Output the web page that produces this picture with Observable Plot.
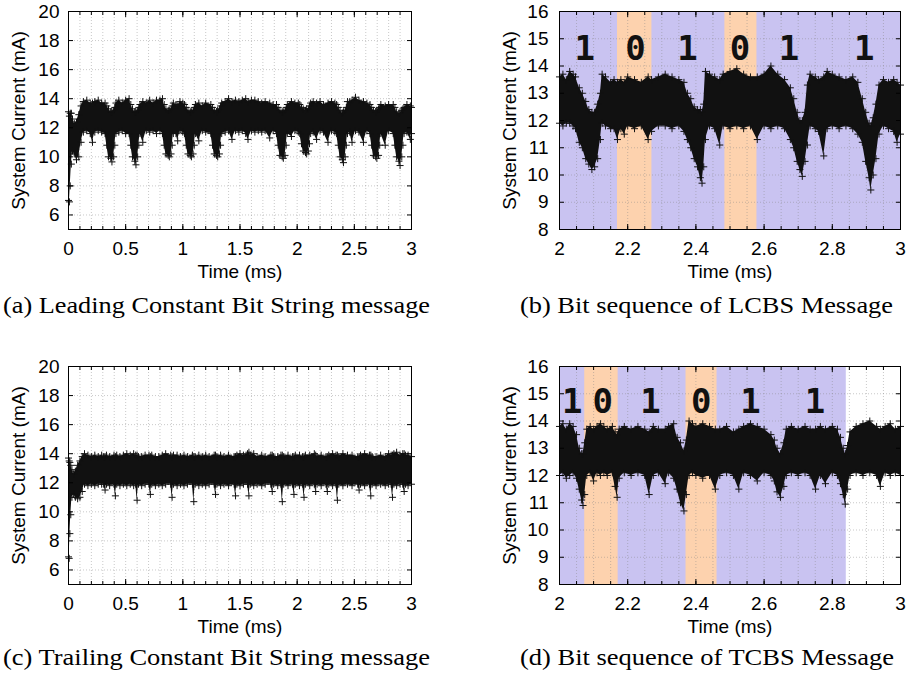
<!DOCTYPE html>
<html><head><meta charset="utf-8">
<script src="https://cdn.jsdelivr.net/npm/d3@7"></script>
<script src="https://cdn.jsdelivr.net/npm/@observablehq/plot@0.6"></script>
<style>
body{margin:0;background:#fff;width:914px;height:676px;position:relative;overflow:hidden}
.panel{position:absolute}
#cap{position:absolute;left:0;top:0}
</style></head>
<body>
<div id="pa" class="panel" style="left:0;top:0"></div>
<div id="pb" class="panel" style="left:457px;top:0"></div>
<div id="pc" class="panel" style="left:0;top:355px"></div>
<div id="pd" class="panel" style="left:457px;top:355px"></div>
<svg id="cap" width="914" height="676"></svg>
<script>
// ---------- Panel (a): Leading Constant Bit String message ----------
const tA = [0,0.008,0.015,0.025,0.035,0.05,0.07,0.09,0.11,0.13,
  0.16,0.19,0.21,0.23,0.26,0.29,0.32,0.335,0.35,0.37,
  0.38,0.395,0.405,0.415,0.44,0.47,0.50,0.53,0.545,0.56,
  0.58,0.59,0.605,0.615,0.625,0.65,0.68,0.71,0.74,0.77,
  0.80,0.822,0.837,0.852,0.872,0.882,0.897,0.907,0.917,0.94,
  0.955,0.975,1.00,1.015,1.03,1.045,1.065,1.075,1.09,1.10,
  1.11,1.14,1.17,1.20,1.245,1.26,1.275,1.295,1.305,1.32,
  1.33,1.34,1.37,1.40,1.43,1.46,1.49,1.52,1.55,1.57,
  1.60,1.63,1.66,1.69,1.72,1.76,1.79,1.819,1.834,1.849,
  1.869,1.879,1.894,1.904,1.914,1.95,1.98,2.01,2.023,2.038,
  2.053,2.073,2.083,2.098,2.108,2.118,2.14,2.17,2.20,2.23,
  2.27,2.30,2.33,2.345,2.36,2.375,2.395,2.405,2.42,2.43,
  2.44,2.46,2.48,2.51,2.54,2.58,2.61,2.637,2.652,2.667,
  2.687,2.697,2.712,2.722,2.732,2.77,2.80,2.84,2.855,2.87,
  2.89,2.90,2.915,2.925,2.935,2.96,2.99,3.00];
const loA = [7.0,6.9,8.0,9.5,10.4,10.2,9.8,10.0,11.0,11.7,
  11.8,11.6,11.0,11.7,11.8,11.7,11.6,10.8,10.0,9.9,
  9.65,10.0,10.8,11.6,11.7,11.8,11.6,11.6,10.8,10.0,
  9.7,9.45,10.0,10.8,11.6,11.0,11.8,11.7,11.8,11.6,
  11.8,11.6,10.8,10.2,10.1,10.0,10.2,10.8,11.6,11.6,
  11.1,11.8,11.7,11.6,10.8,10.2,10.1,10.0,10.2,10.8,
  11.6,11.1,11.8,11.7,11.6,10.8,10.2,10.1,10.0,10.2,
  10.8,11.6,11.7,11.8,11.2,11.8,11.7,11.8,11.6,11.2,
  11.8,11.7,11.8,11.7,11.8,11.3,11.8,11.6,10.8,10.1,
  10.0,9.9,10.1,10.8,11.6,11.4,11.8,11.7,11.6,10.9,
  10.4,10.3,10.2,10.4,10.9,11.6,11.7,11.2,11.8,11.7,
  11.0,11.8,11.7,11.6,10.8,10.0,9.8,9.6,10.0,10.8,
  11.6,11.7,11.0,11.8,11.7,11.0,11.8,11.6,10.8,10.1,
  10.0,9.9,10.1,10.8,11.6,10.8,11.8,11.6,10.8,10.0,
  9.7,9.4,10.0,10.8,11.6,11.7,11.2,11.6];
const hiA = [13.1,12.8,13.0,13.0,12.6,12.3,12.4,12.9,13.5,13.8,
  13.9,13.7,13.7,13.8,13.9,13.7,13.7,13.5,13.3,13.1,
  13.1,13.2,13.4,13.7,13.9,13.7,13.9,14.0,13.6,13.3,
  13.1,13.1,13.2,13.4,13.6,13.8,13.7,13.9,13.7,13.9,
  13.9,14.0,13.6,13.3,13.2,13.2,13.3,13.5,13.7,13.6,
  13.5,13.8,13.7,13.6,13.4,13.2,13.1,13.1,13.2,13.4,
  13.6,13.7,13.5,13.7,13.6,13.4,13.2,13.1,13.2,13.3,
  13.5,13.7,13.8,14.0,13.8,13.9,13.8,13.9,14.0,13.8,
  13.9,13.9,13.8,13.7,13.8,13.7,13.6,13.6,13.4,13.2,
  13.1,13.1,13.2,13.4,13.6,13.8,13.7,13.7,13.6,13.4,
  13.3,13.2,13.3,13.3,13.5,13.7,13.8,13.7,13.8,13.6,
  13.7,13.8,13.7,13.6,13.4,13.2,13.0,13.1,13.2,13.4,
  13.8,13.8,13.9,14.1,13.9,13.8,13.7,13.6,13.4,13.2,
  13.1,13.2,13.3,13.4,13.6,13.5,13.6,13.6,13.4,13.1,
  13.0,13.0,13.2,13.3,13.4,13.6,13.5,13.4];

// ---------- Panel (b): Bit sequence of LCBS Message ----------
const tB = [2.000,2.01,2.02,2.03,2.04,2.047,2.058,2.067,2.077,2.086,2.095,2.103,2.112,2.12,2.125,2.135,2.15,2.16,2.17,2.18,2.19,2.20,2.22,2.24,2.26,2.27,2.29,2.31,2.33,2.35,2.365,2.375,2.385,2.395,2.405,2.413,2.418,2.423,2.428,2.44,2.455,2.47,2.48,2.50,2.52,2.54,2.56,2.58,2.60,2.62,2.64,2.66,2.677,2.687,2.697,2.705,2.712,2.72,2.727,2.735,2.75,2.76,2.775,2.785,2.80,2.82,2.84,2.86,2.875,2.888,2.898,2.908,2.913,2.92,2.928,2.937,2.95,2.965,2.98,2.99,3.00];
const loB = [11.9,11.8,11.9,11.9,11.8,11.7,11.2,11.0,10.6,10.4,10.2,10.3,10.6,11.3,11.9,11.8,11.7,11.7,11.3,11.7,11.5,11.8,11.7,11.8,11.3,11.6,11.8,11.8,11.7,11.8,11.6,11.3,11.0,10.6,10.3,9.9,9.7,10.3,11.3,11.8,11.7,11.1,11.8,11.7,11.8,11.7,11.8,11.3,11.8,11.7,11.8,11.7,11.3,11.0,10.5,10.2,9.95,10.5,11.1,11.8,11.7,11.6,10.7,11.7,11.8,11.7,11.8,11.7,11.5,11.2,10.5,9.9,9.45,10.0,10.6,11.5,11.8,11.7,11.6,11.2,11.5];
const hiB = [13.6,13.7,13.5,13.8,13.7,13.6,13.2,13.0,12.7,12.4,12.3,12.3,12.6,13.0,13.7,13.6,13.4,13.5,13.4,13.5,13.4,13.6,13.5,13.4,13.6,13.5,13.6,13.7,13.6,13.5,13.4,13.0,12.8,12.5,12.4,12.4,12.3,12.6,13.8,13.7,13.6,13.5,13.7,13.8,13.9,13.7,13.6,13.6,13.7,14.0,13.7,13.5,13.2,12.8,12.3,12.0,12.0,12.3,13.3,13.7,13.6,13.5,13.6,13.8,13.7,13.6,13.5,13.6,13.4,12.8,12.3,11.9,11.8,12.1,12.6,13.3,13.5,13.4,13.5,13.4,13.3];
const bitsB = ["1","0","1","0","1","1"];
const bitTimesB = [2.074,2.223,2.375,2.529,2.673,2.894];
const bitLevelB = 14.62;
const zeroSpansB = [[2.17,2.271],[2.485,2.579]];
const oneSpanB = [2.0,3.0];

// ---------- Panel (c): Trailing Constant Bit String message ----------
const tC = [0,0.006,0.012,0.02,0.03,0.045,0.06,0.08,0.10,0.12,0.14,0.17,0.20,0.23,0.26,0.29,0.308,0.32,0.332,0.36,0.398,0.41,0.422,0.45,0.48,0.51,0.54,0.57,0.588,0.60,0.612,0.64,0.67,0.704,0.716,0.728,0.76,0.79,0.82,0.85,0.894,0.906,0.918,0.95,0.98,1.01,1.04,1.084,1.096,1.108,1.14,1.17,1.20,1.23,1.274,1.286,1.298,1.33,1.36,1.40,1.449,1.461,1.473,1.50,1.53,1.566,1.578,1.59,1.62,1.65,1.69,1.72,1.77,1.782,1.794,1.83,1.858,1.87,1.882,1.92,1.96,1.972,1.984,2.02,2.048,2.06,2.072,2.11,2.15,2.162,2.174,2.21,2.252,2.264,2.276,2.31,2.34,2.352,2.364,2.40,2.44,2.48,2.53,2.542,2.554,2.59,2.632,2.644,2.656,2.69,2.73,2.77,2.80,2.822,2.834,2.846,2.87,2.90,2.924,2.936,2.948,2.97,3.00];
const loC = [6.9,6.8,8.5,9.8,11.0,11.2,11.0,10.9,11.0,11.4,11.9,11.8,11.9,11.8,11.9,11.9,11.9,11.5,11.9,11.8,11.9,11.1,11.9,11.8,11.9,11.8,11.9,11.8,11.9,10.8,11.9,11.8,11.9,11.9,11.2,11.9,11.8,11.9,11.8,11.9,11.9,11.0,11.9,11.8,11.9,11.8,11.9,11.9,10.7,11.9,11.8,11.9,11.8,11.9,11.9,11.2,11.9,11.8,11.9,11.8,11.9,11.1,11.9,11.8,11.9,11.9,11.1,11.9,11.8,11.9,11.8,11.9,11.9,11.4,11.9,11.8,11.9,10.7,11.9,11.8,11.9,11.2,11.9,11.8,11.9,11.0,11.9,11.8,11.9,11.4,11.9,11.8,11.9,11.4,11.9,11.8,11.9,10.8,11.9,11.8,11.9,11.8,11.9,11.5,11.9,11.8,11.9,11.1,11.9,11.8,11.9,11.8,11.9,11.9,11.0,11.9,11.8,11.9,11.9,11.4,11.9,11.8,11.9];
const hiC = [13.7,13.5,13.4,13.2,12.9,12.6,12.8,13.2,13.5,13.8,14.0,13.9,13.8,13.9,13.8,13.9,13.8,13.8,13.9,13.8,13.9,13.8,13.9,13.8,13.9,14.0,13.9,14.0,13.9,13.9,13.8,13.8,13.9,13.9,13.8,13.9,13.8,13.8,13.9,14.0,13.9,13.8,13.9,13.9,13.8,13.9,13.8,13.9,13.8,13.8,13.9,13.8,13.9,13.8,13.9,13.9,13.8,13.9,13.8,13.9,13.8,13.8,13.9,14.0,13.9,14.0,14.1,13.9,14.0,13.8,13.9,13.8,13.9,13.9,13.8,13.8,13.9,13.9,13.8,13.9,13.8,13.8,13.9,13.9,13.8,13.8,13.9,13.9,14.0,13.9,13.8,13.9,13.8,13.8,13.9,14.0,13.9,13.9,13.8,14.0,13.9,13.9,13.8,13.8,13.9,14.0,13.9,13.9,13.8,13.8,13.9,13.8,14.0,13.9,13.9,14.0,14.1,13.9,14.0,14.0,13.9,13.9,13.8];

// ---------- Panel (d): Bit sequence of TCBS Message ----------
const tD = [2.000,2.01,2.02,2.03,2.04,2.05,2.058,2.065,2.069,2.074,2.08,2.09,2.10,2.11,2.12,2.13,2.14,2.155,2.163,2.169,2.175,2.19,2.21,2.23,2.25,2.263,2.275,2.29,2.31,2.32,2.335,2.345,2.355,2.365,2.372,2.38,2.39,2.40,2.42,2.44,2.457,2.47,2.49,2.51,2.526,2.54,2.56,2.58,2.60,2.62,2.63,2.638,2.648,2.658,2.665,2.68,2.70,2.72,2.735,2.751,2.765,2.78,2.80,2.815,2.824,2.832,2.838,2.845,2.852,2.87,2.89,2.91,2.93,2.941,2.955,2.97,2.985,3.00];
const loD = [12.0,12.1,11.9,12.0,12.1,11.9,11.5,11.1,10.9,11.3,12.0,12.1,11.8,12.1,12.0,12.1,12.0,12.1,11.6,11.2,11.9,12.1,12.0,12.1,12.0,11.3,12.0,12.1,11.7,12.1,11.9,11.5,11.0,10.7,11.3,12.0,12.1,12.0,11.9,12.0,11.5,12.0,12.1,12.0,11.5,12.1,12.0,11.8,12.1,12.0,11.8,11.4,11.2,11.6,12.0,12.1,12.0,12.1,12.0,11.5,12.0,11.7,12.1,12.0,11.7,11.3,10.95,11.5,12.0,12.1,12.0,12.1,12.0,11.6,12.1,12.0,12.1,12.0];
const hiD = [13.8,13.9,13.7,13.9,13.8,13.5,13.0,12.8,12.8,13.2,13.7,13.8,13.7,13.8,13.9,13.8,13.7,13.8,13.6,13.5,13.7,13.8,13.7,13.8,13.7,13.6,13.8,13.7,13.7,13.8,13.9,13.4,13.2,12.9,13.3,14.0,13.9,13.8,13.9,13.8,13.7,13.7,13.8,13.6,13.7,13.8,13.9,13.8,13.7,13.5,13.3,13.0,12.8,13.2,13.7,13.8,13.7,13.8,13.7,13.7,13.8,13.7,13.8,13.7,13.4,13.0,12.8,13.1,13.6,13.8,13.9,14.0,13.8,13.7,13.8,13.9,13.7,13.8];
const bitsD = ["1","0","1","0","1","1"];
const bitTimesD = [2.037,2.127,2.267,2.416,2.56,2.749];
const bitLevelD = 14.68;
const zeroSpansD = [[2.074,2.172],[2.371,2.462]];
const oneSpanD = [2.0,2.841];

// ---------- axes / ticks ----------
const xTicksWide = [0,0.5,1,1.5,2,2.5,3];
const xTickLabelsWide = ["0","0.5","1","1.5","2","2.5","3"];
const xGridWide = [0,0.1,0.2,0.3,0.4,0.5,0.6,0.7,0.8,0.9,1,1.1,1.2,1.3,1.4,1.5,1.6,1.7,1.8,1.9,2,2.1,2.2,2.3,2.4,2.5,2.6,2.7,2.8,2.9,3];
const yTicksWide = [6,8,10,12,14,16,18,20];
const xTicksZoom = [2,2.2,2.4,2.6,2.8,3];
const xTickLabelsZoom = ["2","2.2","2.4","2.6","2.8","3"];
const xGridZoom = [2,2.05,2.1,2.15,2.2,2.25,2.3,2.35,2.4,2.45,2.5,2.55,2.6,2.65,2.7,2.75,2.8,2.85,2.9,2.95,3];
const yTicksZoom = [8,9,10,11,12,13,14,15,16];

const captions = [
  "(a) Leading Constant Bit String message",
  "(b) Bit sequence of LCBS Message",
  "(c) Trailing Constant Bit String message",
  "(d) Bit sequence of TCBS Message"
];
const xLabel = "Time (ms)";
const yLabel = "System Current (mA)";

const SANS = "Liberation Sans, Arial, sans-serif";
const FS = 19;
const LAVENDER = "#c9c3f1";
const PEACH = "#fdd2ae";
const INK = "#111111";

function rows(t, lo, hi){ return t.map((d,i)=>({t:d, lo:lo[i], hi:hi[i]})); }

function makePanel(o){
  const data = rows(o.t, o.lo, o.hi);
  const marks = [];
  if (o.oneSpan){
    marks.push(Plot.rect([o.oneSpan], {x1: d=>d[0], x2: d=>d[1], y1: o.yDomain[0], y2: o.yDomain[1], fill: LAVENDER}));
    marks.push(Plot.rect(o.zeroSpans, {x1: d=>d[0], x2: d=>d[1], y1: o.yDomain[0], y2: o.yDomain[1], fill: PEACH}));
  }
  marks.push(Plot.ruleX(o.xGrid, {stroke: "#888", strokeOpacity: 0.45, strokeDasharray: "1,2"}));
  marks.push(Plot.ruleY(o.yTicks, {stroke: "#888", strokeOpacity: 0.45, strokeDasharray: "1,2"}));
  marks.push(Plot.areaY(data, {x: "t", y1: "lo", y2: "hi", fill: INK, curve: "linear"}));
  marks.push(Plot.dot(data, {x: "t", y: "hi", symbol: "plus", r: 2.4, stroke: INK, strokeWidth: 1}));
  marks.push(Plot.dot(data, {x: "t", y: "lo", symbol: "plus", r: 2.4, stroke: INK, strokeWidth: 1}));
  if (o.bits){
    const bd = o.bits.map((b,i)=>({b, t:o.bitTimes[i]}));
    marks.push(Plot.text(bd, {x: "t", y: () => o.bitLevel, text: "b", fontFamily: "DejaVu Sans Mono, monospace", fontWeight: "bold", fontSize: 34, fill: INK}));
  }
  marks.push(Plot.frame({stroke: "black", strokeWidth: 1}));
  // tick labels
  marks.push(Plot.axisX(o.xTicks, {anchor: "bottom", label: null, tickSize: 0, tickPadding: 12, fontSize: FS, tickFormat: (d,i)=>o.xTickLabels[i]}));
  marks.push(Plot.axisY(o.yTicks, {anchor: "left", label: null, tickSize: 0, tickPadding: o.yPad, fontSize: FS, tickFormat: d=>String(d)}));
  // inward ticks
  marks.push(Plot.axisX(o.xTicks, {anchor: "bottom", label: null, tickSize: -5, text: null}));
  marks.push(Plot.axisX(o.xTicks, {anchor: "top", label: null, tickSize: -5, text: null}));
  marks.push(Plot.axisX(o.xGrid, {anchor: "bottom", label: null, tickSize: -3, text: null}));
  marks.push(Plot.axisX(o.xGrid, {anchor: "top", label: null, tickSize: -3, text: null}));
  marks.push(Plot.axisY(o.yTicks, {anchor: "left", label: null, tickSize: -5, text: null}));
  marks.push(Plot.axisY(o.yTicks, {anchor: "right", label: null, tickSize: -5, text: null}));
  // axis titles
  marks.push(Plot.text([xLabel], {frameAnchor: "bottom", dy: 42, lineAnchor: "middle", textAnchor: "middle", fontSize: FS, fill: "black"}));
  marks.push(Plot.text([yLabel], {frameAnchor: "left", dx: -50, rotate: -90, lineAnchor: "middle", textAnchor: "middle", fontSize: FS, fill: "black"}));
  return Plot.plot({
    width: 457, height: 290,
    marginTop: 11, marginBottom: 61, marginLeft: o.ml, marginRight: o.mr,
    x: {domain: o.xDomain},
    y: {domain: o.yDomain},
    style: {fontFamily: SANS, fontSize: FS + "px", background: "transparent", color: "black", overflow: "visible"},
    marks
  });
}

document.getElementById("pa").append(makePanel({t:tA, lo:loA, hi:hiA, xDomain:[0,3], yDomain:[5,20], xTicks:xTicksWide, xTickLabels:xTickLabelsWide, xGrid:xGridWide, yTicks:yTicksWide, ml:68, mr:46, yPad:9}));
document.getElementById("pc").append(makePanel({t:tC, lo:loC, hi:hiC, xDomain:[0,3], yDomain:[5,20], xTicks:xTicksWide, xTickLabels:xTickLabelsWide, xGrid:xGridWide, yTicks:yTicksWide, ml:68, mr:46, yPad:9}));
document.getElementById("pb").append(makePanel({t:tB, lo:loB, hi:hiB, xDomain:[2,3], yDomain:[8,16], xTicks:xTicksZoom, xTickLabels:xTickLabelsZoom, xGrid:xGridZoom, yTicks:yTicksZoom, ml:102, mr:14, yPad:11, bits:bitsB, bitTimes:bitTimesB, bitLevel:bitLevelB, zeroSpans:zeroSpansB, oneSpan:oneSpanB}));
document.getElementById("pd").append(makePanel({t:tD, lo:loD, hi:hiD, xDomain:[2,3], yDomain:[8,16], xTicks:xTicksZoom, xTickLabels:xTickLabelsZoom, xGrid:xGridZoom, yTicks:yTicksZoom, ml:102, mr:14, yPad:11, bits:bitsD, bitTimes:bitTimesD, bitLevel:bitLevelD, zeroSpans:zeroSpansD, oneSpan:oneSpanD}));

// captions
const cap = d3.select("#cap");
const capPos = [[3,430,313],[520,893,313],[3,430,665],[520,894,665]];
captions.forEach((c,i)=>{
  const [x1,x2,yb] = capPos[i];
  cap.append("text").attr("x", x1).attr("y", yb)
    .attr("textLength", x2-x1).attr("lengthAdjust", "spacingAndGlyphs")
    .attr("font-family", "Liberation Serif, Times New Roman, serif").attr("font-size", 23)
    .attr("fill", "black").text(c);
});
</script>
</body></html>
